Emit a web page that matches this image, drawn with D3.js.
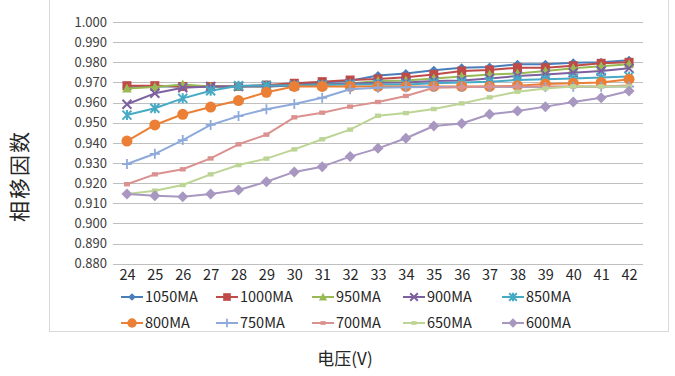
<!DOCTYPE html>
<html>
<head>
<meta charset="utf-8">
<script src="https://cdn.jsdelivr.net/npm/d3@7"></script>
<style>
  html, body { margin: 0; padding: 0; background: #fff; }
  svg { display: block; font-family: "Noto Sans CJK SC", "Noto Sans", sans-serif; }
</style>
</head>
<body>
<svg id="chart" width="675" height="376"></svg>
<script>
// Voltage steps on the x axis
const volts = [24, 25, 26, 27, 28, 29, 30, 31, 32, 33, 34, 35, 36, 37, 38, 39, 40, 41, 42];
// Y axis tick values
const yTicks = [0.88, 0.89, 0.90, 0.91, 0.92, 0.93, 0.94, 0.95, 0.96, 0.97, 0.98, 0.99, 1.00];

// Phase-shift factor per current level
const s1050 = [0.9675, 0.968, 0.968, 0.968, 0.968, 0.9685, 0.969, 0.970, 0.9708, 0.9734, 0.9744, 0.976, 0.9773, 0.9777, 0.979, 0.979, 0.9798, 0.980, 0.981];
const s1000 = [0.9684, 0.9684, 0.968, 0.968, 0.968, 0.9687, 0.9696, 0.9704, 0.9712, 0.9717, 0.9726, 0.974, 0.9757, 0.9762, 0.9773, 0.9773, 0.9783, 0.9795, 0.980];
const s950 = [0.967, 0.9678, 0.969, 0.968, 0.968, 0.968, 0.9685, 0.969, 0.9695, 0.9707, 0.971, 0.972, 0.973, 0.974, 0.9745, 0.9757, 0.977, 0.978, 0.979];
const s900 = [0.9592, 0.9646, 0.9674, 0.968, 0.968, 0.968, 0.9685, 0.969, 0.9695, 0.9699, 0.970, 0.9707, 0.971, 0.972, 0.9732, 0.974, 0.9748, 0.9757, 0.977];
const s850 = [0.9538, 0.9572, 0.9621, 0.9659, 0.9684, 0.9685, 0.9685, 0.9687, 0.969, 0.969, 0.969, 0.9696, 0.970, 0.9704, 0.9712, 0.9716, 0.972, 0.9725, 0.973];
const s800 = [0.9409, 0.9489, 0.9542, 0.9578, 0.961, 0.9651, 0.968, 0.968, 0.968, 0.968, 0.968, 0.968, 0.968, 0.968, 0.9684, 0.9692, 0.9696, 0.970, 0.9716];
const s750 = [0.9295, 0.9346, 0.9414, 0.9489, 0.9533, 0.9567, 0.9593, 0.9624, 0.9666, 0.9674, 0.9676, 0.9677, 0.9677, 0.9678, 0.9678, 0.9678, 0.9679, 0.9679, 0.968];
const s700 = [0.9195, 0.9244, 0.9269, 0.9323, 0.9393, 0.9441, 0.9527, 0.955, 0.958, 0.9603, 0.9633, 0.9674, 0.9676, 0.968, 0.968, 0.968, 0.968, 0.968, 0.9685];
const s650 = [0.9146, 0.9163, 0.9191, 0.9244, 0.929, 0.9322, 0.9368, 0.9418, 0.9466, 0.9535, 0.9548, 0.9568, 0.9596, 0.9626, 0.9654, 0.967, 0.968, 0.968, 0.968];
const s600 = [0.9146, 0.9138, 0.9133, 0.9146, 0.9166, 0.9207, 0.9256, 0.9282, 0.9332, 0.9373, 0.9423, 0.9484, 0.9496, 0.9542, 0.9558, 0.958, 0.9603, 0.9624, 0.9658];

const seriesNames = ["1050MA", "1000MA", "950MA", "900MA", "850MA", "800MA", "750MA", "700MA", "650MA", "600MA"];
const seriesValues = [s1050, s1000, s950, s900, s850, s800, s750, s700, s650, s600];
const seriesColors = ["#4A7EBB", "#BE4B48", "#98B954", "#7D60A0", "#46AAC5", "#EB7F35", "#8EAADB", "#DA918F", "#BCD595", "#A797C1"];
const seriesMarkers = ["diamond", "square", "triangle", "x", "asterisk", "circle", "plus", "dash", "dash", "diamondL"];

const svg = d3.select("#chart");

// Outer frame of the chart area
svg.append("rect")
  .attr("x", 49.5).attr("y", -1).attr("width", 619).attr("height", 332.5)
  .attr("fill", "none").attr("stroke", "#D9D9D9").attr("stroke-width", 1);

const x = d3.scalePoint().domain(volts).range([113, 643]).padding(0.5);
const y = d3.scaleLinear().domain([0.88, 1.0]).range([263.8, 22]);

// Horizontal gridlines
svg.append("g")
  .selectAll("line")
  .data(yTicks)
  .join("line")
  .attr("x1", 113).attr("x2", 643)
  .attr("y1", d => Math.round(y(d)) + 0.5).attr("y2", d => Math.round(y(d)) + 0.5)
  .attr("stroke", "#BFBFBF").attr("stroke-width", 1.2);

// Y axis labels
const yAxis = d3.axisLeft(y).tickValues(yTicks).tickFormat(d3.format(".3f")).tickSize(0).tickPadding(6);
const gy = svg.append("g").attr("transform", "translate(113,0)").call(yAxis);
gy.select(".domain").remove();
gy.selectAll("text").attr("font-size", 13).attr("fill", "#404040")
  .attr("font-family", "'Noto Sans CJK SC', sans-serif");

// X axis labels
const xAxis = d3.axisBottom(x).tickSize(0).tickPadding(6);
const gx = svg.append("g").attr("transform", "translate(0,264)").call(xAxis);
gx.select(".domain").remove();
gx.selectAll("text").attr("font-size", 14.5).attr("fill", "#262626")
  .attr("font-family", "'Noto Sans CJK SC', sans-serif");

// Marker drawing
function drawMarker(g, type, color, cx, cy, scale) {
  const k = scale || 1;
  switch (type) {
    case "diamond":
      g.append("path").attr("d", `M${cx},${cy - 4.5 * k}L${cx + 4.5 * k},${cy}L${cx},${cy + 4.5 * k}L${cx - 4.5 * k},${cy}Z`).attr("fill", color);
      break;
    case "diamondL":
      g.append("path").attr("d", `M${cx},${cy - 5.5 * k}L${cx + 5.5 * k},${cy}L${cx},${cy + 5.5 * k}L${cx - 5.5 * k},${cy}Z`).attr("fill", color);
      break;
    case "square":
      g.append("rect").attr("x", cx - 4.5 * k).attr("y", cy - 4.5 * k).attr("width", 9 * k).attr("height", 9 * k).attr("fill", color);
      break;
    case "triangle":
      g.append("path").attr("d", `M${cx},${cy - 5 * k}L${cx + 4.8 * k},${cy + 4 * k}L${cx - 4.8 * k},${cy + 4 * k}Z`).attr("fill", color);
      break;
    case "x":
      g.append("path").attr("d", `M${cx - 4.5 * k},${cy - 4.5 * k}L${cx + 4.5 * k},${cy + 4.5 * k}M${cx + 4.5 * k},${cy - 4.5 * k}L${cx - 4.5 * k},${cy + 4.5 * k}`)
        .attr("stroke", color).attr("stroke-width", 2).attr("fill", "none");
      break;
    case "asterisk":
      g.append("path").attr("d", `M${cx - 4.5 * k},${cy - 4.5 * k}L${cx + 4.5 * k},${cy + 4.5 * k}M${cx + 4.5 * k},${cy - 4.5 * k}L${cx - 4.5 * k},${cy + 4.5 * k}M${cx},${cy - 5 * k}L${cx},${cy + 5 * k}`)
        .attr("stroke", color).attr("stroke-width", 2).attr("fill", "none");
      break;
    case "circle":
      g.append("circle").attr("cx", cx).attr("cy", cy).attr("r", 5.5 * k).attr("fill", color);
      break;
    case "plus":
      g.append("path").attr("d", `M${cx - 5 * k},${cy}L${cx + 5 * k},${cy}M${cx},${cy - 5 * k}L${cx},${cy + 5 * k}`)
        .attr("stroke", color).attr("stroke-width", 1.8).attr("fill", "none");
      break;
    case "dash":
      g.append("rect").attr("x", cx - 3 * k).attr("y", cy - 2.2 * k).attr("width", 6 * k).attr("height", 4.4 * k).attr("fill", color);
      break;
  }
}

// Series lines and markers, drawn in series order
const line = d3.line().x((d, i) => x(volts[i])).y(d => y(d));
seriesValues.forEach((vals, si) => {
  const g = svg.append("g");
  g.append("path").datum(vals).attr("d", line)
    .attr("fill", "none").attr("stroke", seriesColors[si]).attr("stroke-width", 2)
    .attr("stroke-linejoin", "round");
  vals.forEach((v, i) => drawMarker(g, seriesMarkers[si], seriesColors[si], x(volts[i]), y(v)));
});

// Legend
const legendCols = [121, 216, 312, 403, 502];
const legendRows = [297, 323];
seriesNames.forEach((name, i) => {
  const lx = legendCols[i % 5];
  const ly = legendRows[Math.floor(i / 5)];
  const g = svg.append("g");
  g.append("line").attr("x1", lx).attr("x2", lx + 22).attr("y1", ly).attr("y2", ly)
    .attr("stroke", seriesColors[i]).attr("stroke-width", 2);
  drawMarker(g, seriesMarkers[i], seriesColors[i], lx + 11, ly, 0.85);
  g.append("text").attr("x", lx + 24).attr("y", ly).attr("dy", "0.35em")
    .attr("font-size", 14.5).attr("fill", "#262626").text(name);
});

// Axis titles
svg.append("text")
  .attr("transform", "translate(20,176) rotate(-90)")
  .attr("text-anchor", "middle").attr("dy", "0.35em")
  .attr("font-size", 21).attr("letter-spacing", 2).attr("fill", "#262626")
  .text("相移因数");

svg.append("text")
  .attr("x", 345).attr("y", 365)
  .attr("text-anchor", "middle")
  .attr("font-size", 17).attr("fill", "#262626")
  .text("电压(V)");
</script>
</body>
</html>
